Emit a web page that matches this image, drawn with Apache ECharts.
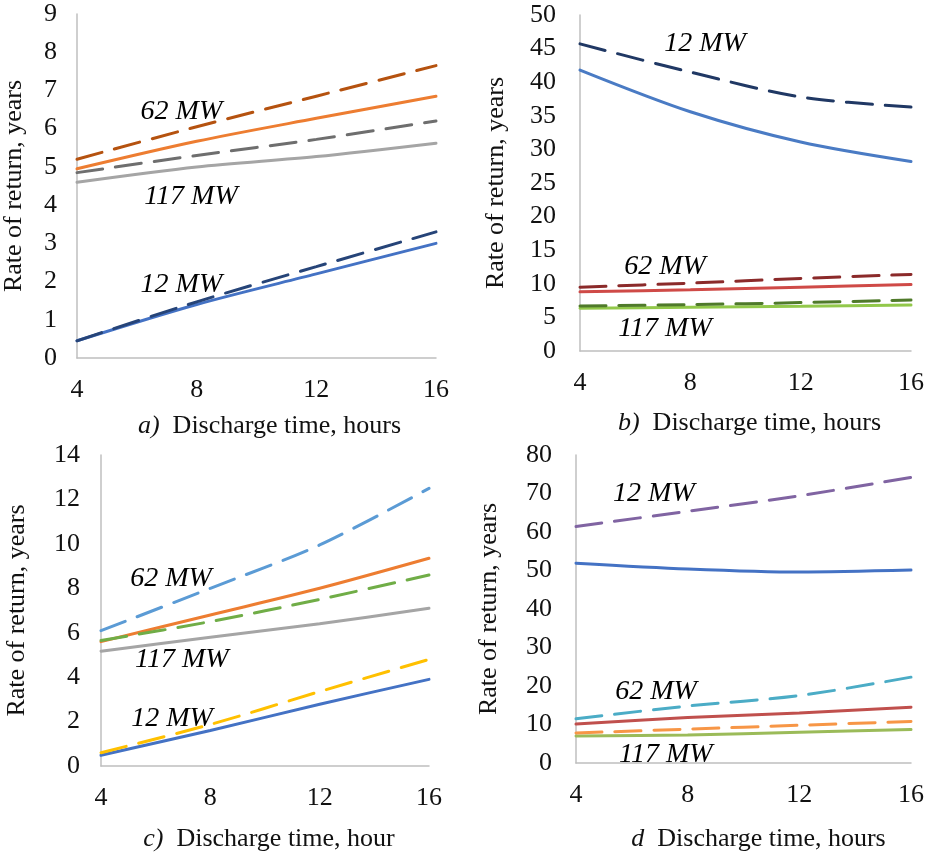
<!DOCTYPE html>
<html>
<head>
<meta charset="utf-8">
<script src="https://cdn.jsdelivr.net/npm/echarts@6/dist/echarts.min.js"></script>
<style>
  html, body { margin: 0; padding: 0; background: #fff; }
  #chart { width: 928px; height: 853px; }
</style>
</head>
<body>
<div id="chart"></div>
<script>
// discharge time, hours
var hours = [4, 8, 12, 16];

// panel a
var a12Solid = [0.45, 1.4, 2.2, 3.0];
var a12Dash = [0.45, 1.47, 2.39, 3.3];
var a62Solid = [4.95, 5.67, 6.27, 6.85];
var a62Dash = [5.2, 6.05, 6.85, 7.65];
var a117Solid = [4.6, 5.0, 5.27, 5.62];
var a117Dash = [4.85, 5.3, 5.72, 6.2];

// panel b
var b12Solid = [41.8, 35.6, 31.1, 28.2];
var b12Dash = [45.7, 41.5, 37.8, 36.3];
var b62Solid = [8.8, 9.1, 9.5, 9.9];
var b62Dash = [9.5, 10.1, 10.8, 11.4];
var b117Solid = [6.35, 6.5, 6.65, 6.85];
var b117Dash = [6.7, 6.9, 7.2, 7.6];

// panel c
var c12Solid = [0.48, 1.6, 2.78, 3.9];
var c12Dash = [0.6, 1.87, 3.35, 4.8];
var c62Solid = [5.6, 6.8, 8.0, 9.35];
var c62Dash = [6.09, 8.0, 9.95, 12.5];
var c117Solid = [5.17, 5.8, 6.4, 7.1];
var c117Dash = [5.65, 6.5, 7.5, 8.6];

// panel d
var d12Solid = [51.9, 50.4, 49.6, 50.1];
var d12Dash = [61.4, 65.4, 69.4, 74.2];
var d62Solid = [10.1, 11.8, 13.0, 14.5];
var d62Dash = [11.5, 14.8, 17.5, 22.3];
var d117Solid = [7.0, 7.3, 8.0, 8.7];
var d117Dash = [7.8, 8.8, 9.8, 10.8];

// labels inside panels: [text, hours, value]
var aNotes = [['62 MW', 7.49, 6.44], ['117 MW', 7.81, 4.21], ['12 MW', 7.49, 1.91]];
var bNotes = [['12 MW', 8.53, 45.8], ['62 MW', 7.08, 12.5], ['117 MW', 7.08, 3.4]];
var cNotes = [['62 MW', 6.56, 8.43], ['117 MW', 6.96, 4.78], ['12 MW', 6.6, 2.13]];
var dNotes = [['12 MW', 6.79, 69.9], ['62 MW', 6.87, 18.5], ['117 MW', 7.22, 2.3]];

var font = "'Liberation Serif', 'Times New Roman', serif";

function line(idx, vals, color, dashed) {
    return {
        type: 'line',
        xAxisIndex: idx,
        yAxisIndex: idx,
        data: hours.map(function (h, i) { return [h, vals[i]]; }),
        smooth: 0.3,
        symbol: 'none',
        silent: true,
        lineStyle: {
            color: color,
            width: 3,
            type: dashed ? [26, 13] : 'solid',
            cap: 'round'
        },
        z: dashed ? 3 : 2
    };
}

function notes(idx, list) {
    return {
        type: 'scatter',
        xAxisIndex: idx,
        yAxisIndex: idx,
        symbolSize: 0,
        silent: true,
        itemStyle: { opacity: 1, color: '#000' },
        data: list.map(function (n) { return [n[1], n[2], n[0]]; }),
        label: {
            show: true,
            position: 'inside',
            formatter: function (p) { return p.value[2]; },
            fontFamily: font,
            fontStyle: 'italic',
            fontSize: 28,
            color: '#000',
            textBorderWidth: 0,
            opacity: 1
        },
        z: 5
    };
}

function xAxis(idx, letter, gap, shift) {
    return {
        type: 'value',
        gridIndex: idx,
        min: 4,
        max: 16,
        interval: 4,
        name: '{i|' + letter + '}  Discharge time, ' + (idx === 2 ? 'hour' : 'hours'),
        nameLocation: 'middle',
        nameGap: gap,
        nameTextStyle: {
            fontFamily: font,
            fontSize: 26,
            color: '#111',
            padding: [0, 0, 0, shift * 2],
            rich: {
                i: { fontFamily: font, fontSize: 26, fontStyle: 'italic', color: '#111' }
            }
        },
        axisLine: { show: true, lineStyle: { color: '#BFBFBF', width: 1.5 } },
        axisTick: { show: false },
        splitLine: { show: false },
        axisLabel: { fontFamily: font, fontSize: 26, color: '#111', margin: 19 }
    };
}

function yAxis(idx, max, interval, gap, margin) {
    return {
        type: 'value',
        gridIndex: idx,
        min: 0,
        max: max,
        interval: interval,
        name: 'Rate of return, years',
        nameLocation: 'middle',
        nameGap: gap,
        nameTextStyle: { fontFamily: font, fontSize: 26, color: '#111' },
        axisLine: { show: true, lineStyle: { color: '#BFBFBF', width: 1.5 } },
        axisTick: { show: false },
        splitLine: { show: false },
        axisLabel: { fontFamily: font, fontSize: 26, color: '#111', margin: margin }
    };
}

var chart = echarts.init(document.getElementById('chart'), null, { renderer: 'canvas' });

var option = {
    backgroundColor: '#fff',
    animation: false,
    grid: [
        { left: 68, right: 492, top: 14, bottom: 495 },
        { left: 580, right: 17, top: 15, bottom: 502 },
        { left: 101, right: 499, top: 455, bottom: 76 },
        { left: 576, right: 17, top: 455, bottom: 79 }
    ],
    xAxis: [
        xAxis(0, 'a)', 55, 13),
        xAxis(1, 'b)', 59, 4),
        xAxis(2, 'c)', 60, 4),
        xAxis(3, 'd', 63, 15)
    ],
    yAxis: [
        yAxis(0, 9, 1, 50, 20),
        yAxis(1, 50, 5, 71, 24),
        yAxis(2, 14, 2, 71, 21),
        yAxis(3, 80, 10, 74, 24)
    ],
    series: [
        // a
        line(0, a117Solid, '#A5A5A5', false),
        line(0, a117Dash, '#6E6E6E', true),
        line(0, a62Solid, '#ED7D31', false),
        line(0, a62Dash, '#B5520F', true),
        line(0, a12Solid, '#4472C4', false),
        line(0, a12Dash, '#264478', true),
        notes(0, aNotes),
        // b
        line(1, b12Solid, '#4A7BC4', false),
        line(1, b12Dash, '#203864', true),
        line(1, b62Solid, '#CF4A47', false),
        line(1, b62Dash, '#8B2A2A', true),
        line(1, b117Solid, '#92C84A', false),
        line(1, b117Dash, '#4F7A2A', true),
        notes(1, bNotes),
        // c
        line(2, c117Solid, '#A5A5A5', false),
        line(2, c62Solid, '#ED7D31', false),
        line(2, c117Dash, '#70AD47', true),
        line(2, c62Dash, '#5B9BD5', true),
        line(2, c12Solid, '#4472C4', false),
        line(2, c12Dash, '#FFC000', true),
        notes(2, cNotes),
        // d
        line(3, d12Solid, '#4472C4', false),
        line(3, d12Dash, '#8064A2', true),
        line(3, d62Solid, '#C0504D', false),
        line(3, d62Dash, '#4BACC6', true),
        line(3, d117Solid, '#9BBB59', false),
        line(3, d117Dash, '#F79646', true),
        notes(3, dNotes)
    ]
};
chart.setOption(option);
</script>
</body>
</html>
